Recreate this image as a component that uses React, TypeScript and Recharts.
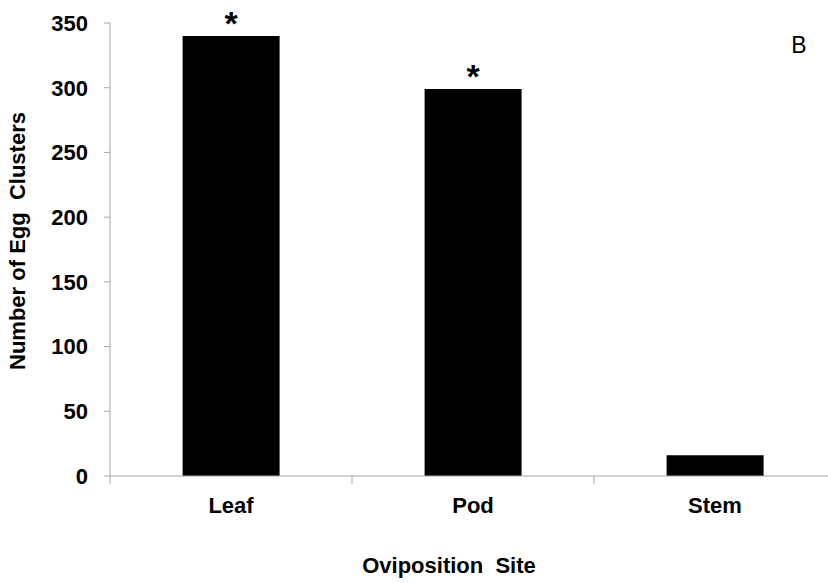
import { BarChart, Bar, XAxis, YAxis, LabelList, Label } from 'recharts';

const sites = ['Leaf', 'Pod', 'Stem'];
const eggClusters = [340, 299, 16];
const significance = ['*', '*', ''];
const yTicks = [0, 50, 100, 150, 200, 250, 300, 350];

const data = sites.map((site, i) => ({ site, count: eggClusters[i], sig: significance[i] }));

const FONT = '"Liberation Sans", Arial, sans-serif';
const AXIS = '#a6a6a6';
const CHART_W = 846;
const CHART_H = 583;
const MARGIN = { top: 23, right: 10, bottom: 47, left: 30 };
const Y_W = 80;
const PLOT_W = CHART_W - MARGIN.left - MARGIN.right - Y_W;
const BAND = PLOT_W / sites.length;

// category label plus a tick mark at the left edge of each band
const SiteTick = (props: any) => {
  const { x, y, payload } = props;
  return (
    <g>
      <line x1={x - BAND / 2} x2={x - BAND / 2} y1={y} y2={y + 8} stroke={AXIS} />
      <text x={x} y={y + 37} textAnchor="middle" fill="#000" fontSize={22} fontWeight="bold" fontFamily={FONT}>
        {payload.value}
      </text>
    </g>
  );
};

export default function App() {
  return (
    <div style={{ position: 'absolute', left: 0, top: 0, width: 828, height: 583, overflow: 'hidden', background: '#fff' }}>
      <BarChart width={CHART_W} height={CHART_H} data={data} margin={MARGIN} barCategoryGap="30%">
        <XAxis
          dataKey="site"
          height={60}
          interval={0}
          tickLine={false}
          tickSize={0}
          tickMargin={0}
          axisLine={{ stroke: AXIS }}
          tick={<SiteTick />}
        >
          <Label
            content={() => (
              <text x={449} y={573} textAnchor="middle" fill="#000" fontSize={22} fontWeight="bold" fontFamily={FONT} style={{ whiteSpace: 'pre' }}>
                {'Oviposition  Site'}
              </text>
            )}
          />
        </XAxis>
        <YAxis
          width={Y_W}
          domain={[0, 350]}
          ticks={yTicks}
          interval={0}
          tickSize={6}
          tickMargin={16}
          axisLine={{ stroke: AXIS }}
          tickLine={{ stroke: AXIS }}
          tick={{ fill: '#000', fontSize: 22, fontWeight: 'bold', fontFamily: FONT }}
        >
          <Label
            content={() => (
              <text
                x={17}
                y={241}
                transform="rotate(-90 17 241)"
                textAnchor="middle"
                dominantBaseline="central"
                fill="#000"
                fontSize={22}
                fontWeight="bold"
                fontFamily={FONT}
                style={{ whiteSpace: 'pre' }}
              >
                {'Number of Egg  Clusters'}
              </text>
            )}
          />
        </YAxis>
        <Bar dataKey="count" fill="#000" isAnimationActive={false}>
          <LabelList dataKey="sig" position="top" offset={1} fill="#000" fontSize={34} fontWeight="bold" fontFamily={FONT} />
        </Bar>
      </BarChart>
      <div style={{ position: 'absolute', left: 799, top: 45, transform: 'translate(-50%, -50%)', fontFamily: FONT, fontSize: 23, color: '#000' }}>
        B
      </div>
    </div>
  );
}
